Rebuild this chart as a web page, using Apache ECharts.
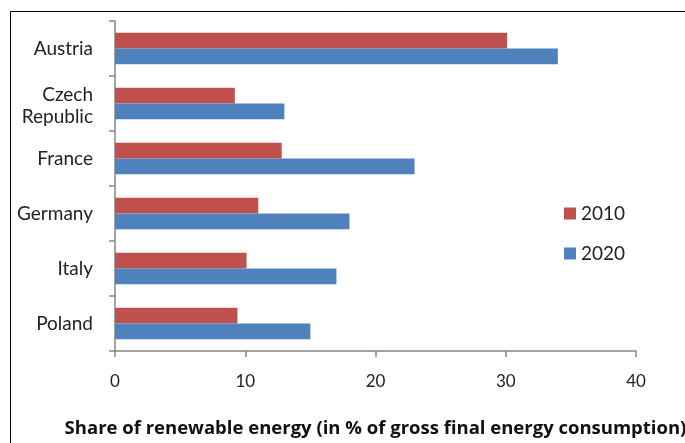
<!DOCTYPE html>
<html>
<head>
<meta charset="utf-8">
<script src="https://cdn.jsdelivr.net/npm/echarts@6/dist/echarts.min.js"></script>
<style>
html,body{margin:0;padding:0;background:#fff;}
#chart{width:685px;height:443px;}
</style>
</head>
<body>
<div id="chart"></div>
<script>
var categories = ['Austria', 'Czech\nRepublic', 'France', 'Germany', 'Italy', 'Poland'];
var values2010 = [30.1, 9.2, 12.8, 11.0, 10.1, 9.4];
var values2020 = [34.0, 13.0, 23.0, 18.0, 17.0, 15.0];
var xTicks = { min: 0, max: 40, interval: 10 };
var seriesNames = ['2010', '2020'];
var axisTitle = 'Share of renewable energy (in % of gross final energy consumption)';

var chart = echarts.init(document.getElementById('chart'), null, { renderer: 'canvas' });
var font = 'Lato, "Open Sans", sans-serif';
var axisGray = '#868686';
chart.setOption({
  animation: false,
  backgroundColor: '#fff',
  graphic: [{
    type: 'rect',
    shape: { x: 10.5, y: 11.5, width: 800, height: 600 },
    style: { fill: 'none', stroke: '#000', lineWidth: 1 },
    silent: true
  }],
  grid: { left: 115, right: 49, top: 21, bottom: 92, containLabel: false, outerBoundsMode: 'none' },
  legend: {
    orient: 'vertical',
    left: 559,
    top: 199,
    itemWidth: 12,
    itemHeight: 12,
    itemGap: 21,
    icon: 'rect',
    data: seriesNames,
    textStyle: { fontFamily: font, fontSize: 19, color: '#222' }
  },
  xAxis: {
    type: 'value',
    min: xTicks.min,
    max: xTicks.max,
    interval: xTicks.interval,
    name: axisTitle,
    nameLocation: 'middle',
    nameGap: 68,
    nameTextStyle: { fontFamily: '"Open Sans", Lato, sans-serif', fontSize: 18.5, fontWeight: 'bold', color: '#111' },
    axisLine: { show: true, lineStyle: { color: axisGray, width: 1.5 } },
    axisTick: { show: true, length: 6, lineStyle: { color: axisGray, width: 1.5 } },
    axisLabel: { fontFamily: font, fontSize: 17, color: '#222', margin: 22 },
    splitLine: { show: false }
  },
  yAxis: {
    type: 'category',
    inverse: true,
    data: categories,
    axisLine: { show: true, lineStyle: { color: axisGray, width: 1.5 } },
    axisTick: { show: true, length: 6, lineStyle: { color: axisGray, width: 1.5 } },
    axisLabel: {
      fontFamily: font, fontSize: 19, color: '#222', margin: 22, lineHeight: 22, align: 'right',
      formatter: function (v) { return v.indexOf('\n') >= 0 ? '{m|' + v.replace('\n', '}\n{m|') + '}' : v; },
      rich: { m: { fontFamily: font, fontSize: 19, color: '#222', lineHeight: 22, padding: [5, 0, 0, 0] } }
    }
  },
  series: [
    {
      name: seriesNames[0], type: 'bar', data: values2010,
      barGap: '0%', barCategoryGap: '43%',
      itemStyle: { color: '#C0504D' }
    },
    {
      name: seriesNames[1], type: 'bar', data: values2020,
      barGap: '0%', barCategoryGap: '43%',
      itemStyle: { color: '#4F81BD' }
    }
  ]
});
</script>
</body>
</html>
